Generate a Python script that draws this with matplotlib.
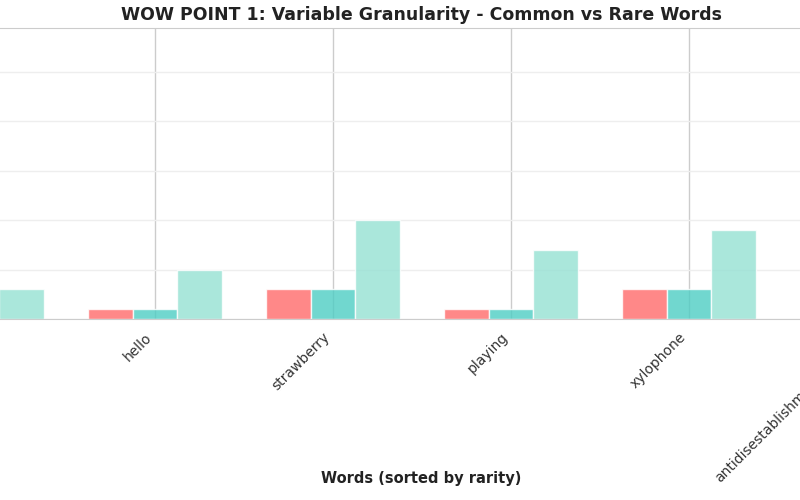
import matplotlib.pyplot as plt
import numpy as np

words = ["the", "hello", "strawberry", "playing", "xylophone", "antidisestablishmentarianism"]
bpe_tokens = [1, 1, 3, 1, 3, 6]
wordpiece_tokens = [1, 1, 3, 1, 3, 6]
char_tokens = [3, 5, 10, 7, 9, 28]

colors = ["#FF6B6B", "#4ECDC4", "#95E1D3"]

fig = plt.figure(figsize=(8, 5), dpi=100)
# the original chart is cropped: axes run past the figure edges
px = 178.0
left_px = -23 - 0.6 * px
ax = fig.add_axes([left_px / 800, 181 / 500, 6.2 * px / 800, 291 / 500])

x = np.arange(len(words))
w = 0.25
ax.bar(x - w, bpe_tokens, w, color=colors[0], alpha=0.8, edgecolor="white", label="BPE")
ax.bar(x, wordpiece_tokens, w, color=colors[1], alpha=0.8, edgecolor="white", label="WordPiece")
ax.bar(x + w, char_tokens, w, color=colors[2], alpha=0.8, edgecolor="white", label="Character")

ax.set_xlim(-0.6, 5.6)
ax.set_ylim(0, 29.4)
ax.set_xticks(x)
ax.set_xticklabels(words, rotation=45, ha="right", fontsize=10, color="#333333")
ax.tick_params(length=0)
ax.tick_params(axis="x", pad=8)
ax.set_yticks([0, 5, 10, 15, 20, 25])
ax.set_yticklabels([])
ax.grid(True, axis="y", color="#eeeeee", linewidth=1)
ax.grid(True, axis="x", color="#cccccc", linewidth=1)
ax.set_axisbelow(True)
for s in ax.spines.values():
    s.set_color("#cccccc")

ax.set_ylabel("Number of Tokens", fontsize=11, fontweight="bold")
fig.text(0.527, 0.033, "Words (sorted by rarity)", ha="center", fontsize=10.5,
         fontweight="bold", color="#222222")
fig.text(0.527, 0.97, "WOW POINT 1: Variable Granularity - Common vs Rare Words",
         ha="center", va="center", fontsize=12.5, fontweight="bold", color="#222222")

fig.savefig("out.png", dpi=100)
